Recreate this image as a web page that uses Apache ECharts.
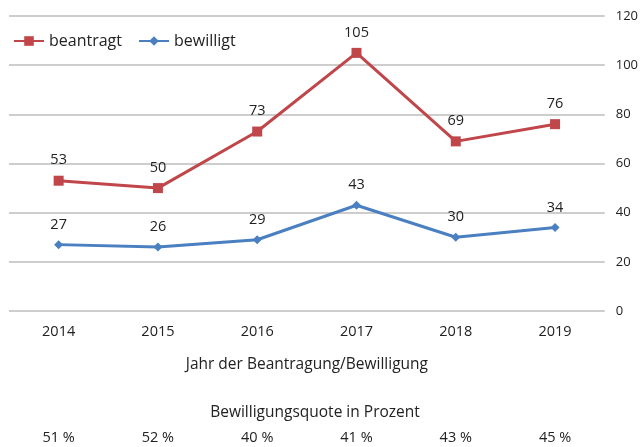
<!DOCTYPE html>
<html><head><meta charset="utf-8">
<script src="https://cdn.jsdelivr.net/npm/echarts@6/dist/echarts.min.js"></script>
<style>html,body{margin:0;padding:0;background:#fff}#c{width:641px;height:447px}</style>
</head><body><div id="c"></div>
<script>
const years = ['2014','2015','2016','2017','2018','2019'];
const beantragt = [53, 50, 73, 105, 69, 76];
const bewilligt = [27, 26, 29, 43, 30, 34];
const quote = ['51 %','52 %','40 %','41 %','43 %','45 %'];
const yTicks = {min: 0, max: 120, interval: 20};

const font = '"Open Sans", "Noto Sans", sans-serif';
const chart = echarts.init(document.getElementById('c'));
chart.setOption({
  animation: false,
  textStyle: {fontFamily: font},
  title: {text: 'Bewilligungsquote in Prozent', left: 310, top: 400, textAlign: 'center',
    textStyle: {fontSize: 15.5, fontWeight: 'normal', color: '#222', fontFamily: font}},
  legend: {left: 8, top: 28, itemWidth: 30, itemHeight: 12, itemGap: 16,
    textStyle: {fontSize: 16, color: '#222', fontFamily: font},
    data: ['beantragt','bewilligt']},
  grid: {left: 9, right: 32, top: 16, bottom: 136},
  xAxis: [{type: 'category', data: years, boundaryGap: true,
    axisLine: {show: false}, axisTick: {show: false},
    axisLabel: {fontSize: 14.5, color: '#222', margin: 13, fontFamily: font},
    name: 'Jahr der Beantragung/Bewilligung', nameLocation: 'middle', nameGap: 46,
    nameTextStyle: {fontSize: 15.5, color: '#222', fontFamily: font}},
   {type: 'category', data: quote, position: 'bottom', offset: 119, boundaryGap: true,
    axisLine: {show: false}, axisTick: {show: false},
    axisLabel: {fontSize: 14.5, color: '#222', margin: 0, fontFamily: font}}],
  yAxis: {type: 'value', position: 'right', min: yTicks.min, max: yTicks.max, interval: yTicks.interval,
    axisLine: {show: false}, axisTick: {show: false},
    axisLabel: {fontSize: 13, color: '#222', margin: 11, fontFamily: font},
    splitLine: {lineStyle: {color: '#bcbcbc', width: 1.5}}},
  series: [
    {name: 'beantragt', type: 'line', data: beantragt, symbol: 'rect', symbolSize: 10,
     color: '#c0464a', lineStyle: {width: 3, color: '#c0464a'}, itemStyle: {color: '#c0464a'},
     label: {show: true, position: 'top', distance: 8, fontSize: 14.5, color: '#222', fontFamily: font}},
    {name: 'bewilligt', type: 'line', data: bewilligt, symbol: 'diamond', symbolSize: 9,
     color: '#4a7fc1', lineStyle: {width: 3, color: '#4a7fc1'}, itemStyle: {color: '#4a7fc1'},
     label: {show: true, position: 'top', distance: 8, fontSize: 14.5, color: '#222', fontFamily: font}}
  ]
});
</script></body></html>
